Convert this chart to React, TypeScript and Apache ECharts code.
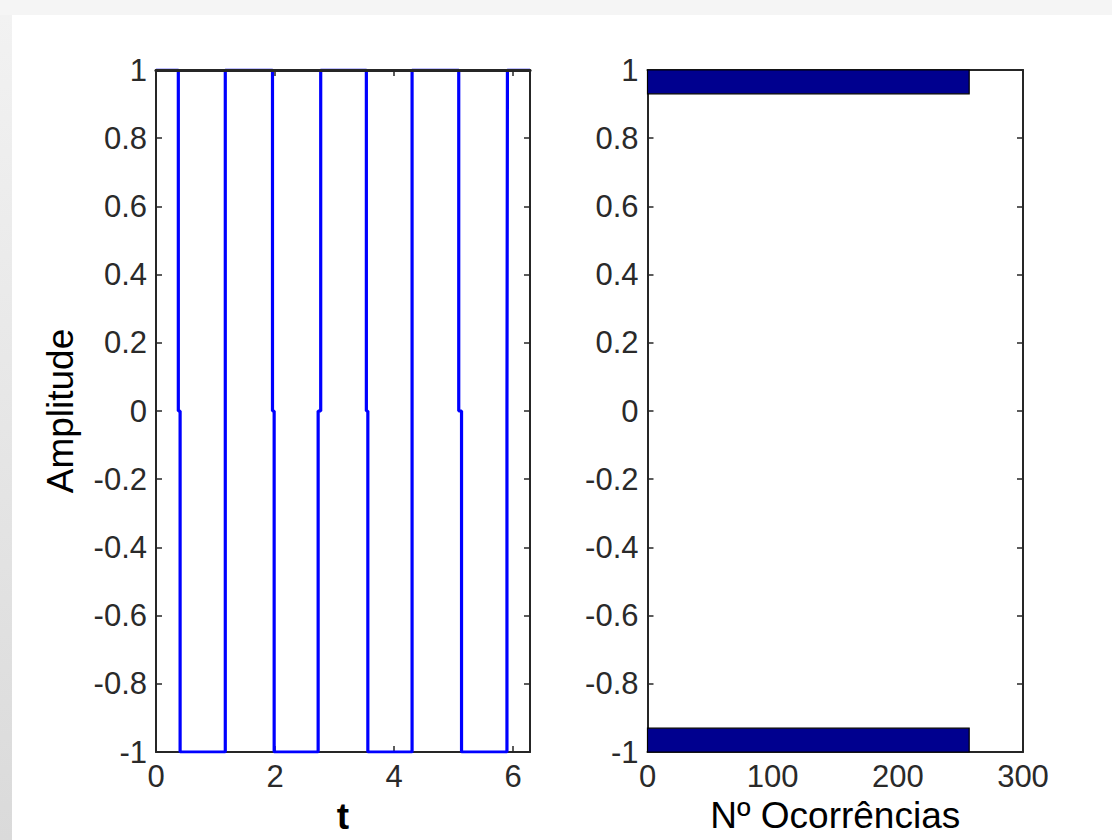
import React, { useEffect, useRef } from "react";
import * as echarts from "echarts";

// Square wave breakpoints (t, amplitude)
const waveT = [0, 0.375, 0.375, 0.405, 0.405, 1.164, 1.164, 1.957, 1.957, 1.985, 1.985, 2.724, 2.724, 2.767, 2.767, 3.534, 3.534, 3.559, 3.559, 4.302, 4.302, 5.086, 5.086, 5.133, 5.133, 5.896, 5.896, 5.904, 5.904, 6.2832];
const waveV = [1, 1, 0, 0, -1, -1, 1, 1, 0, 0, -1, -1, 0, 0, 1, 1, 0, 0, -1, -1, 1, 1, 0, 0, -1, -1, 0, 0, 1, 1];

// Histogram: amplitude levels and number of occurrences
const histLevels = [1, -1];
const histCounts = [257, 257];

const tMax = 6.2832;
const xLabelT = "t";
const xLabelHist = "Nº Ocorrências";
const yLabel = "Amplitude";

export default function App() {
  const ref = useRef<HTMLDivElement>(null);

  useEffect(() => {
    if (!ref.current) return;
    const chart = echarts.init(ref.current, null, { renderer: "svg" });
    const font = "'Liberation Sans', Arial, Helvetica, sans-serif";
    const axisColor = "#262626";
    const tickLabel = { fontSize: 31, color: "#2a2a2a", fontFamily: font };
    const nameStyle = { fontSize: 37, color: "#000", fontFamily: font };
    const lineStyle = { color: axisColor, width: 2 };
    const topLineStyle = { color: axisColor, width: 3.2 };
    const tick = { show: true, inside: true, length: 6, lineStyle: { color: axisColor, width: 1.5 } };

    const waveData = waveT.map((t, i) => [t, waveV[i]]);
    const histData = histLevels.map((lv, i) => [histCounts[i], lv]);
    const half = 0.07;

    chart.setOption({
      animation: false,
      backgroundColor: "#f5f5f5",
      graphic: [
        { type: "rect", z: -10, shape: { x: 12, y: 15, width: 1100, height: 825 }, style: { fill: "#ffffff" } },
        {
          type: "rect", z: -10, shape: { x: 0, y: 15, width: 12, height: 825 },
          style: {
            fill: new echarts.graphic.LinearGradient(0, 0, 0, 1, [
              { offset: 0, color: "#f2f2f2" },
              { offset: 1, color: "#dadada" },
            ]),
          },
        },
      ],
      grid: [
        { left: 156, top: 70, width: 374, height: 682, outerBoundsMode: "none", containLabel: false },
        { left: 647.5, top: 70, width: 375.5, height: 682, outerBoundsMode: "none", containLabel: false },
      ],
      xAxis: [
        {
          gridIndex: 0, type: "value", position: "bottom", min: 0, max: tMax, interval: 2,
          axisLine: { show: true, onZero: false, lineStyle }, axisTick: tick, splitLine: { show: false },
          axisLabel: { ...tickLabel, margin: 9, showMaxLabel: false },
          name: xLabelT, nameLocation: "middle", nameGap: 46, nameTextStyle: { ...nameStyle, fontWeight: "bold" },
        },
        {
          gridIndex: 0, type: "value", position: "top", min: 0, max: tMax, interval: 2, z: 10,
          axisLine: { show: true, onZero: false, lineStyle: topLineStyle }, axisTick: tick, splitLine: { show: false },
          axisLabel: { show: false },
        },
        {
          gridIndex: 1, type: "value", position: "bottom", min: 0, max: 300, interval: 100,
          axisLine: { show: true, onZero: false, lineStyle }, axisTick: tick, splitLine: { show: false },
          axisLabel: { ...tickLabel, margin: 9 },
          name: xLabelHist, nameLocation: "middle", nameGap: 45, nameTextStyle: nameStyle,
        },
        {
          gridIndex: 1, type: "value", position: "top", min: 0, max: 300, interval: 100,
          axisLine: { show: true, onZero: false, lineStyle }, axisTick: tick, splitLine: { show: false },
          axisLabel: { show: false },
        },
      ],
      yAxis: [
        {
          gridIndex: 0, type: "value", position: "left", min: -1, max: 1, interval: 0.2,
          axisLine: { show: true, onZero: false, lineStyle }, axisTick: tick, splitLine: { show: false },
          axisLabel: { ...tickLabel, margin: 9 },
          name: yLabel, nameLocation: "middle", nameGap: 77, nameRotate: 90, nameTextStyle: nameStyle,
        },
        {
          gridIndex: 0, type: "value", position: "right", min: -1, max: 1, interval: 0.2,
          axisLine: { show: true, onZero: false, lineStyle }, axisTick: tick, splitLine: { show: false },
          axisLabel: { show: false },
        },
        {
          gridIndex: 1, type: "value", position: "left", min: -1, max: 1, interval: 0.2,
          axisLine: { show: true, onZero: false, lineStyle }, axisTick: tick, splitLine: { show: false },
          axisLabel: { ...tickLabel, margin: 9 },
        },
        {
          gridIndex: 1, type: "value", position: "right", min: -1, max: 1, interval: 0.2,
          axisLine: { show: true, onZero: false, lineStyle }, axisTick: tick, splitLine: { show: false },
          axisLabel: { show: false },
        },
      ],
      series: [
        {
          type: "line", xAxisIndex: 0, yAxisIndex: 0, data: waveData,
          symbol: "none", clip: true,
          lineStyle: { color: "#0000ff", width: 3.2 },
        },
        {
          type: "custom", xAxisIndex: 2, yAxisIndex: 2, data: histData,
          encode: { x: 0, y: 1 },
          renderItem: (params: any, api: any) => {
            const cnt = api.value(0);
            const lv = api.value(1);
            const p0 = api.coord([0, lv + half]);
            const p1 = api.coord([cnt, lv - half]);
            const cs = params.coordSys;
            const rect = echarts.graphic.clipRectByRect(
              { x: p0[0], y: p0[1], width: p1[0] - p0[0], height: p1[1] - p0[1] },
              { x: cs.x, y: cs.y, width: cs.width, height: cs.height }
            );
            if (!rect) return null;
            return {
              type: "rect",
              shape: rect,
              style: { fill: "#00008f", stroke: "#000000", lineWidth: 1.2 },
            };
          },
        },
      ],
    });
    return () => chart.dispose();
  }, []);

  return (
    <div
      ref={ref}
      style={{ position: "absolute", left: 0, top: 0, width: 1112, height: 840 }}
    />
  );
}
